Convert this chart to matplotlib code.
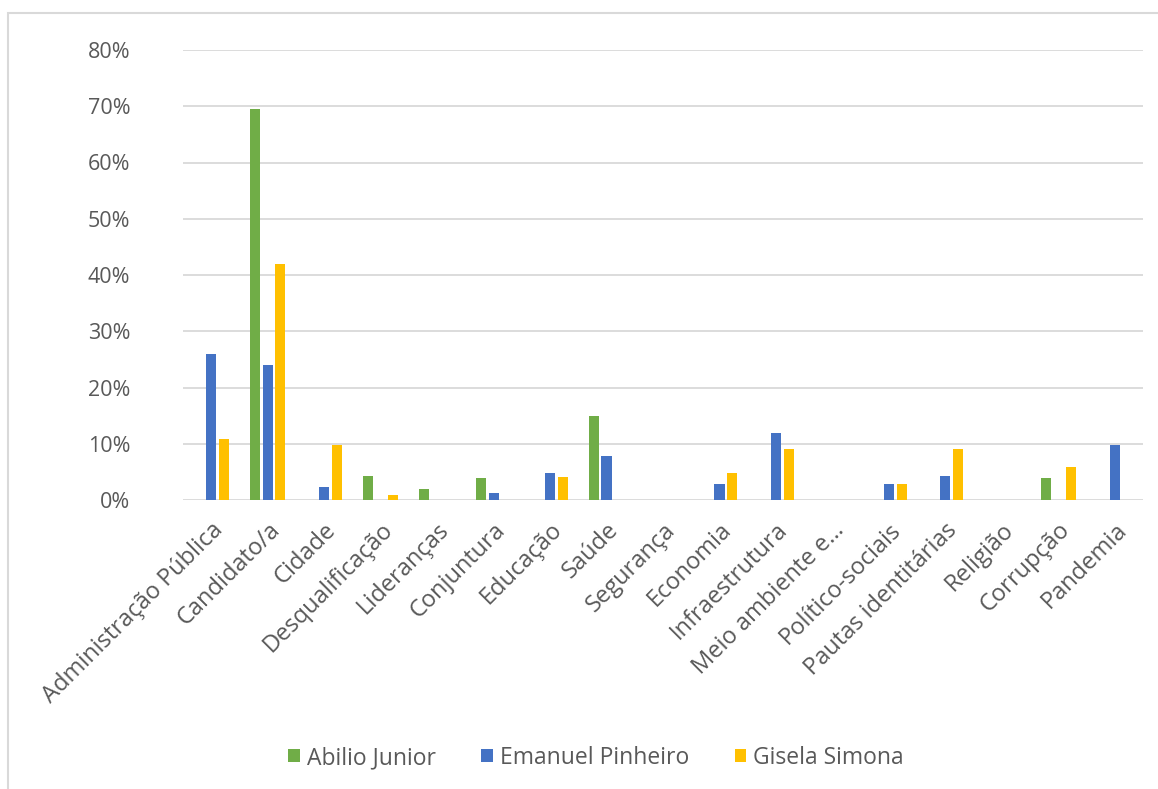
import matplotlib
matplotlib.use("Agg")
import matplotlib.pyplot as plt
from matplotlib.patches import Rectangle
import numpy as np

categories = ["Administração Pública", "Candidato/a", "Cidade", "Desqualificação",
              "Lideranças", "Conjuntura", "Educação", "Saúde", "Segurança", "Economia",
              "Infraestrutura", "Meio ambiente e…", "Político-sociais", "Pautas identitárias",
              "Religião", "Corrupção", "Pandemia"]
abilio = [0, 69.5, 0, 4.3, 1.9, 4.0, 0, 15.0, 0, 0, 0, 0, 0, 0, 0, 4.0, 0]
emanuel = [26.0, 24.0, 2.3, 0, 0, 1.2, 4.8, 7.8, 0, 2.9, 11.9, 0, 2.9, 4.3, 0, 0, 9.8]
gisela = [10.8, 42.0, 9.8, 0.9, 0, 0, 4.1, 0, 0, 4.8, 9.0, 0, 2.9, 9.0, 0, 5.9, 0]
series_names = ["Abilio Junior", "Emanuel Pinheiro", "Gisela Simona"]
colors = ["#70AD47", "#4472C4", "#FFC000"]
yticks = [0, 10, 20, 30, 40, 50, 60, 70, 80]

plt.rcParams['font.family'] = ['Open Sans', 'DejaVu Sans']
txt = "#595959"

fig = plt.figure(figsize=(11.58, 7.89), dpi=100)
fig.patches.append(Rectangle((8/1158, -0.1), 1.2, 1 - 13/789 + 0.1, transform=fig.transFigure,
                             fill=False, edgecolor="#d9d9d9", linewidth=1.5))
ax = fig.add_axes([183/1158, 1 - 500/789, (1143 - 183)/1158, (500 - 50)/789])

n = len(categories)
x = np.arange(n)
w = 0.18
off = 0.225
for i, (vals, name, c) in enumerate(zip([abilio, emanuel, gisela], series_names, colors)):
    ax.bar(x + (i - 1) * off, vals, width=w, color=c, label=name, zorder=3)

ax.set_xlim(-0.5, n - 0.5)
ax.set_ylim(0, 80)
ax.set_yticks(yticks)
ax.set_yticklabels([f"{v}%" for v in yticks], fontsize=15.5, color=txt)
ax.yaxis.grid(True, color="#d9d9d9", linewidth=1.3, zorder=0)
ax.tick_params(axis='y', length=0, pad=38)
ax.set_xticks(x)
ax.set_xticklabels(categories, rotation=45, ha='right', rotation_mode='anchor',
                   fontsize=17, color=txt)
ax.tick_params(axis='x', length=0, pad=13)
for s in ax.spines.values():
    s.set_visible(False)

leg = fig.legend(loc='center', bbox_to_anchor=(596/1158, 1 - 758/789), ncol=3,
                 frameon=False, fontsize=16.5, handlelength=0.5, handleheight=0.5,
                 handletextpad=0.3, columnspacing=2.0, labelcolor=txt)

fig.savefig("out.png", dpi=100)
